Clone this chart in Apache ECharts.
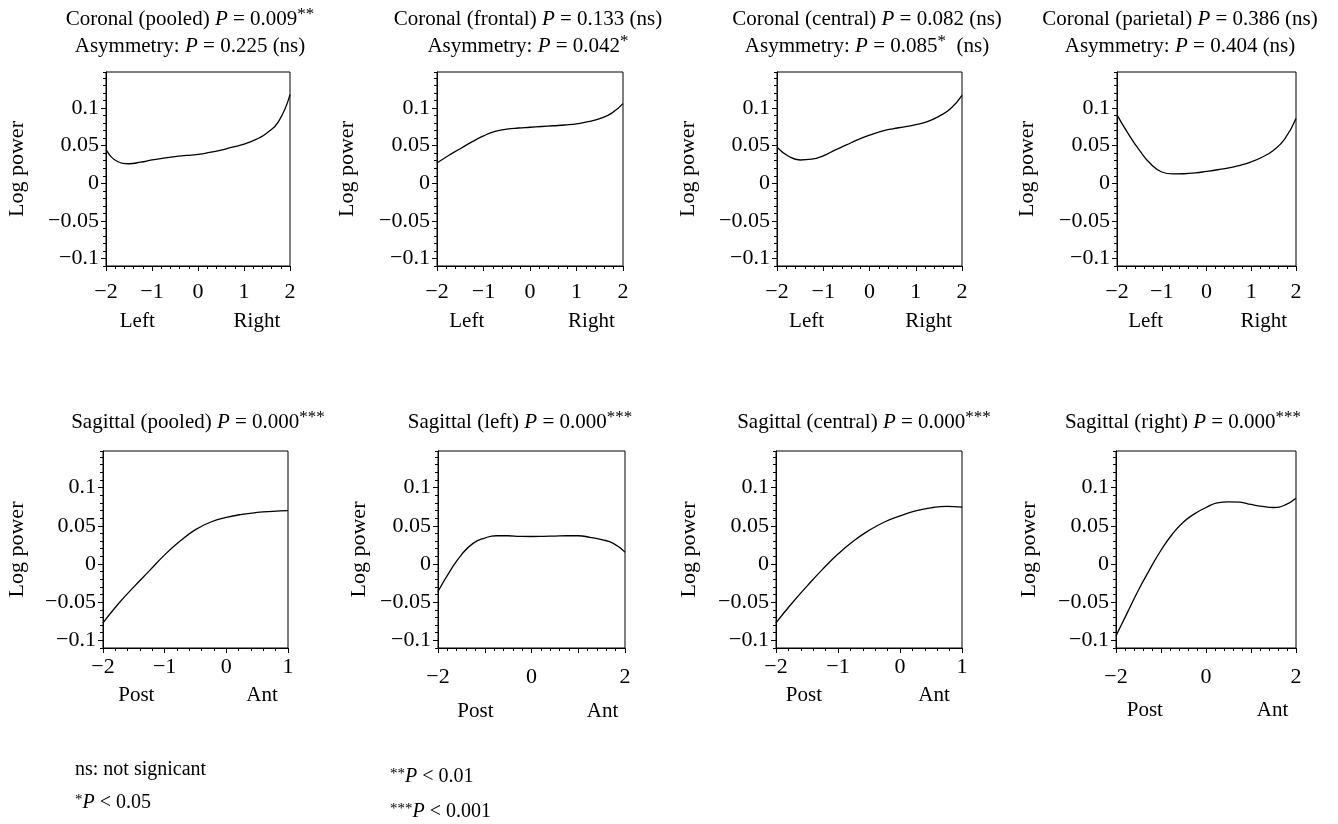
<!DOCTYPE html>
<html>
<head>
<meta charset="utf-8">
<script src="https://cdn.jsdelivr.net/npm/echarts@6/dist/echarts.min.js"></script>
<style>
  html, body { margin: 0; padding: 0; background: #fff; }
  #chart { width: 1338px; height: 824px; }
</style>
</head>
<body>
<div id="chart"></div>
<script>
// electrode position (x)
const xFull = [-2, -1.75, -1.5, -1.25, -1, -0.75, -0.5, -0.25, 0, 0.25, 0.5, 0.75, 1, 1.25, 1.5, 1.75, 2];
const xShort = [-2, -1.75, -1.5, -1.25, -1, -0.75, -0.5, -0.25, 0, 0.25, 0.5, 0.75, 1];

// log power curves
const coronalPooled   = [0.045, 0.029, 0.026, 0.028, 0.031, 0.0335, 0.0355, 0.037, 0.0385, 0.041, 0.044, 0.048, 0.052, 0.058, 0.067, 0.082, 0.118];
const coronalFrontal  = [0.027, 0.037, 0.046, 0.055, 0.063, 0.069, 0.072, 0.0735, 0.0745, 0.0755, 0.0765, 0.0775, 0.079, 0.082, 0.086, 0.093, 0.106];
const coronalCentral  = [0.048, 0.036, 0.031, 0.032, 0.0365, 0.044, 0.051, 0.058, 0.064, 0.069, 0.0725, 0.075, 0.078, 0.082, 0.089, 0.099, 0.117];
const coronalParietal = [0.091, 0.066, 0.044, 0.026, 0.015, 0.0125, 0.0127, 0.0138, 0.0158, 0.018, 0.0205, 0.0238, 0.0285, 0.035, 0.044, 0.059, 0.086];
const sagittalPooled  = [-0.077, -0.052, -0.030, -0.009, 0.012, 0.030, 0.045, 0.055, 0.061, 0.065, 0.0675, 0.069, 0.070];
const sagittalLeft    = [-0.036, -0.010, 0.012, 0.027, 0.034, 0.037, 0.037, 0.0362, 0.036, 0.0362, 0.0366, 0.037, 0.037, 0.035, 0.032, 0.027, 0.0156];
const sagittalCentral = [-0.077, -0.052, -0.029, -0.007, 0.013, 0.030, 0.044, 0.055, 0.063, 0.0695, 0.0735, 0.0755, 0.0745];
const sagittalRight   = [-0.094, -0.064, -0.034, -0.007, 0.018, 0.039, 0.055, 0.066, 0.074, 0.080, 0.0815, 0.081, 0.078, 0.0755, 0.074, 0.077, 0.086];

// tick labels
const xLabelsFull = [-2, -1, 0, 1, 2];
const xLabelsShort = [-2, -1, 0, 1];
const xLabelsWide = [-2, 0, 2];
const yTicks = [-0.1, -0.05, 0, 0.05, 0.1];
const yTickText = ['\u22120.1', '\u22120.05', '0', '0.05', '0.1'];

const FONT = "'Liberation Serif', 'Times New Roman', serif";

const panels = [
  { title: '{t|Coronal (pooled) }{i|P}{t| = 0.009}{s|**}\n{t|Asymmetry: }{i|P}{t| = 0.225 (ns)}',
    x: xFull, y: coronalPooled, xMax: 2, labels: xLabelsFull, names: ['Left', 'Right'], nf: [0.17, 0.82],
    box: [106, 72, 184, 194], tx: 190, ty: 6, lm: 15, nameY: 321, yNameGap: 78 },
  { title: '{t|Coronal (frontal) }{i|P}{t| = 0.133 (ns)}\n{t|Asymmetry: }{i|P}{t| = 0.042}{s|*}',
    x: xFull, y: coronalFrontal, xMax: 2, labels: xLabelsFull, names: ['Left', 'Right'], nf: [0.16, 0.83],
    box: [437, 72, 186, 194], tx: 528, ty: 6, lm: 15, nameY: 321, yNameGap: 79 },
  { title: '{t|Coronal (central) }{i|P}{t| = 0.082 (ns)}\n{t|Asymmetry: }{i|P}{t| = 0.085}{s|*}{t|  (ns)}',
    x: xFull, y: coronalCentral, xMax: 2, labels: xLabelsFull, names: ['Left', 'Right'], nf: [0.16, 0.82],
    box: [777, 72, 185, 194], tx: 867, ty: 6, lm: 15, nameY: 321, yNameGap: 78 },
  { title: '{t|Coronal (parietal) }{i|P}{t| = 0.386 (ns)}\n{t|Asymmetry: }{i|P}{t| = 0.404 (ns)}',
    x: xFull, y: coronalParietal, xMax: 2, labels: xLabelsFull, names: ['Left', 'Right'], nf: [0.16, 0.82],
    box: [1117, 72, 179, 194], tx: 1180, ty: 6, lm: 15, nameY: 321, yNameGap: 79 },
  { title: '{t|Sagittal (pooled) }{i|P}{t| = 0.000}{s|***}',
    x: xShort, y: sagittalPooled, xMax: 1, labels: xLabelsShort, names: ['Post', 'Ant'], nf: [0.18, 0.86],
    box: [103, 451, 185, 197], tx: 198, ty: 409, lm: 8, nameY: 695, yNameGap: 75 },
  { title: '{t|Sagittal (left) }{i|P}{t| = 0.000}{s|***}',
    x: xFull, y: sagittalLeft, xMax: 2, labels: xLabelsWide, names: ['Post', 'Ant'], nf: [0.2, 0.88],
    box: [438, 451, 187, 197], tx: 520, ty: 409, lm: 18, nameY: 711, yNameGap: 68 },
  { title: '{t|Sagittal (central) }{i|P}{t| = 0.000}{s|***}',
    x: xShort, y: sagittalCentral, xMax: 1, labels: xLabelsShort, names: ['Post', 'Ant'], nf: [0.15, 0.85],
    box: [776, 451, 186, 197], tx: 864, ty: 409, lm: 8, nameY: 695, yNameGap: 76 },
  { title: '{t|Sagittal (right) }{i|P}{t| = 0.000}{s|***}',
    x: xFull, y: sagittalRight, xMax: 2, labels: xLabelsWide, names: ['Post', 'Ant'], nf: [0.16, 0.87],
    box: [1116, 451, 180, 197], tx: 1183, ty: 409, lm: 18, nameY: 710, yNameGap: 76 }
];

const richTitle = {
  t: { fontFamily: FONT, fontSize: 21, fontWeight: 'normal', color: '#000', lineHeight: 27 },
  i: { fontFamily: FONT, fontSize: 21, fontWeight: 'normal', color: '#000', fontStyle: 'italic', lineHeight: 27 },
  s: { fontFamily: FONT, fontSize: 17, fontWeight: 'normal', color: '#000', verticalAlign: 'top', lineHeight: 24 }
};

const fmtX = v => (v < 0 ? '\u2212' + (-v) : String(v));
const fmtY = v => {
  const k = yTicks.findIndex(t => Math.abs(t - v) < 1e-9);
  return k >= 0 ? yTickText[k] : '';
};

const grid = [], xAxis = [], yAxis = [], series = [], title = [], graphic = [];

panels.forEach((p, i) => {
  const [l, t, w, h] = p.box;
  grid.push({ left: l, top: t, width: w, height: h, show: true, borderColor: '#000', borderWidth: 1 });
  xAxis.push({
    gridIndex: i, type: 'value', min: -2, max: p.xMax, interval: 1,
    axisLine: { show: true, onZero: false, lineStyle: { color: '#000', width: 1 } },
    axisTick: { show: true, length: 5, lineStyle: { color: '#000' } },
    minorTick: { show: true, splitNumber: 5, length: 3, lineStyle: { color: '#000' } },
    splitLine: { show: false },
    axisLabel: { customValues: p.labels, formatter: fmtX, margin: p.lm, color: '#000', fontFamily: FONT, fontSize: 22 }
  });
  // main y axis: labels and long ticks
  yAxis.push({
    gridIndex: i, type: 'value', min: -0.11, max: 0.148, position: 'left',
    name: 'Log power', nameLocation: 'middle', nameRotate: 90, nameGap: p.yNameGap,
    nameTextStyle: { fontFamily: FONT, fontSize: 22, color: '#000' },
    axisLine: { show: true, onZero: false, lineStyle: { color: '#000', width: 1 } },
    axisTick: { show: true, length: 5, customValues: yTicks, lineStyle: { color: '#000' } },
    splitLine: { show: false },
    axisLabel: { customValues: yTicks, formatter: fmtY, margin: 7, color: '#000', fontFamily: FONT, fontSize: 22 }
  });
  // overlaid y axis for the short 0.01 ticks
  yAxis.push({
    gridIndex: i, type: 'value', min: -0.11, max: 0.148, interval: 0.01, position: 'left',
    axisLine: { show: false, onZero: false },
    axisTick: { show: true, length: 3, lineStyle: { color: '#000' } },
    splitLine: { show: false },
    axisLabel: { show: false }
  });
  series.push({
    type: 'line', xAxisIndex: i, yAxisIndex: 2 * i,
    data: p.x.map((xv, k) => [xv, p.y[k]]),
    showSymbol: false, smooth: 0.5,
    lineStyle: { color: '#000', width: 1.3 }, silent: true
  });
  title.push({
    text: p.title, left: p.tx, top: p.ty, textAlign: 'center', padding: 0,
    textStyle: { fontWeight: 'normal', rich: richTitle }
  });
  p.names.forEach((n, k) => {
    graphic.push({
      type: 'text', x: l + p.nf[k] * w, y: p.nameY,
      style: { text: n, fontFamily: FONT, fontSize: 21, fill: '#000', align: 'center', verticalAlign: 'middle' }
    });
  });
});

const richNote = {
  t: { fontFamily: FONT, fontSize: 20, color: '#000' },
  i: { fontFamily: FONT, fontSize: 20, color: '#000', fontStyle: 'italic' },
  s: { fontFamily: FONT, fontSize: 15, color: '#000', verticalAlign: 'top', lineHeight: 18 }
};
[
  ['{t|ns: not signicant}', 75, 770],
  ['{s|*}{i|P}{t| < 0.05}', 75, 803],
  ['{s|**}{i|P}{t| < 0.01}', 390, 777],
  ['{s|***}{i|P}{t| < 0.001}', 390, 812]
].forEach(([txt, x, y]) => {
  graphic.push({
    type: 'text', x: x, y: y,
    style: { text: txt, rich: richNote, align: 'left', verticalAlign: 'middle' }
  });
});

const chart = echarts.init(document.getElementById('chart'));
chart.setOption({
  animation: false,
  backgroundColor: '#fff',
  title, grid, xAxis, yAxis, series, graphic
});
</script>
</body>
</html>
